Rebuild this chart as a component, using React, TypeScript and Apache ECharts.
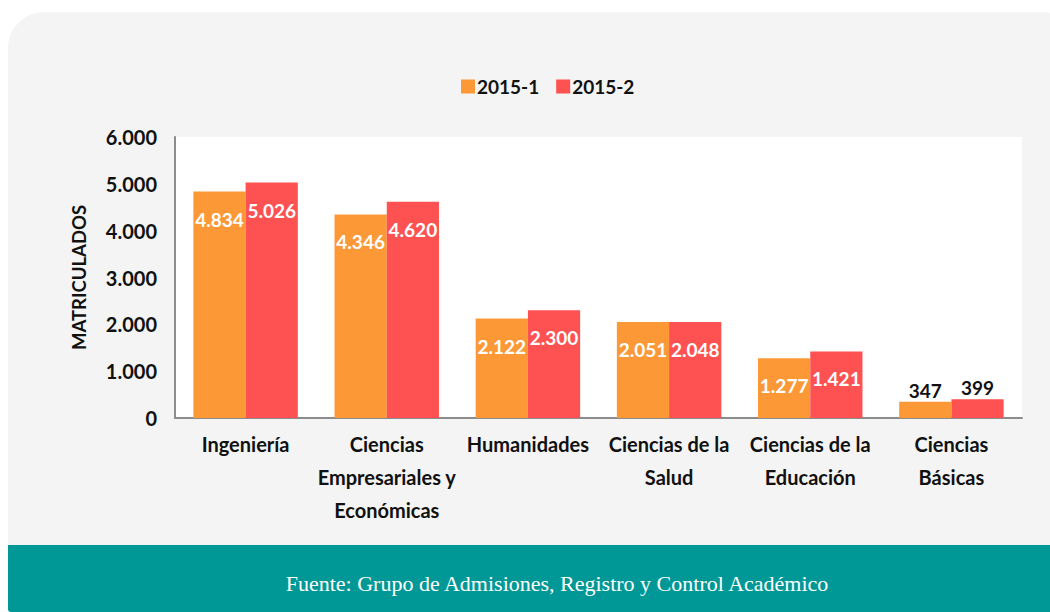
import React, { useEffect, useRef } from "react";
import * as echarts from "echarts";

const categories = [
  "Ingeniería",
  "Ciencias\nEmpresariales y\nEconómicas",
  "Humanidades",
  "Ciencias de la\nSalud",
  "Ciencias de la\nEducación",
  "Ciencias\nBásicas",
];
const series1Name = "2015-1";
const series2Name = "2015-2";
const series1Values = [4834, 4346, 2122, 2051, 1277, 347];
const series2Values = [5026, 4620, 2300, 2048, 1421, 399];
const outsideLabelCategories = ["Ciencias\nBásicas"];
const yAxisTitle = "MATRICULADOS";
const footerText = "Fuente: Grupo de Admisiones, Registro y Control Académico";

const ORANGE = "#fd9836";
const RED = "#fe5151";
const TEAL = "#009896";
const FONT = "Lato";

const fmt = (v: number) => {
  const s = String(Math.round(v));
  return s.replace(/\B(?=(\d{3})+(?!\d))/g, ".");
};

const buildData = (values: number[]) =>
  values.map((v, i) => {
    if (outsideLabelCategories.includes(categories[i])) {
      return {
        value: v,
        label: { position: "top", color: "#111", distance: 2 },
      };
    }
    return v;
  });

export default function App() {
  const ref = useRef<HTMLDivElement>(null);
  useEffect(() => {
    document.body.style.margin = "0";
    const chart = echarts.init(ref.current!, null, { renderer: "svg" });
    const labelCommon = {
      show: true,
      position: "insideTop",
      distance: 18,
      color: "#fff",
      fontFamily: FONT,
      fontWeight: "bold",
      fontSize: 19,
      formatter: (p: any) => fmt(p.value),
    };
    chart.setOption({
      animation: false,
      backgroundColor: "#ffffff",
      textStyle: { fontFamily: FONT },
      graphic: [
        {
          type: "rect",
          z: -10,
          silent: true,
          shape: { x: 8, y: 12, width: 1070, height: 620, r: [36, 36, 0, 0] },
          style: { fill: "#f4f4f4" },
        },
        {
          type: "rect",
          z: -9,
          silent: true,
          shape: { x: 8, y: 545, width: 1060, height: 67, r: [0, 0, 0, 3] },
          style: { fill: TEAL },
        },
        {
          type: "text",
          z: 10,
          silent: true,
          x: 557,
          y: 583,
          style: {
            text: footerText,
            fill: "#ffffff",
            font: '22px "Liberation Serif"',
            textAlign: "center",
            textVerticalAlign: "middle",
          },
        },
      ],
      legend: {
        left: 456,
        top: 72,
        itemWidth: 14,
        itemHeight: 14,
        itemGap: 17,
        icon: "rect",
        textStyle: {
          fontFamily: FONT,
          fontWeight: "bold",
          fontSize: 19,
          color: "#111",
          padding: [0, 0, 0, -3],
        },
        data: [series1Name, series2Name],
      },
      grid: {
        left: 175,
        right: 28,
        top: 137,
        bottom: 194,
        show: true,
        backgroundColor: "#ffffff",
        borderWidth: 0,
      },
      xAxis: {
        type: "category",
        data: categories,
        axisTick: { show: false },
        axisLine: { show: true, lineStyle: { color: "#8c8c8c", width: 2 } },
        axisLabel: {
          interval: 0,
          margin: 9,
          lineHeight: 33,
          fontFamily: FONT,
          fontWeight: "bold",
          fontSize: 20,
          color: "#111",
        },
      },
      yAxis: {
        type: "value",
        min: 0,
        max: 6000,
        interval: 1000,
        name: yAxisTitle,
        nameLocation: "middle",
        nameRotate: 90,
        nameGap: 87,
        nameTextStyle: {
          fontFamily: FONT,
          fontWeight: "bold",
          fontSize: 18.5,
          color: "#111",
        },
        splitLine: { show: false },
        axisTick: { show: false },
        axisLine: { show: true, lineStyle: { color: "#8c8c8c", width: 2 } },
        axisLabel: {
          margin: 18,
          fontFamily: FONT,
          fontWeight: "bold",
          fontSize: 20,
          color: "#111",
          formatter: (v: number) => fmt(v),
        },
      },
      series: [
        {
          name: series1Name,
          type: "bar",
          data: buildData(series1Values),
          itemStyle: { color: ORANGE },
          barGap: "0%",
          barCategoryGap: "26%",
          label: labelCommon,
        },
        {
          name: series2Name,
          type: "bar",
          data: buildData(series2Values),
          itemStyle: { color: RED },
          barGap: "0%",
          barCategoryGap: "26%",
          label: labelCommon,
        },
      ],
    });
    return () => chart.dispose();
  }, []);
  return (
    <div
      ref={ref}
      style={{ position: "absolute", left: 0, top: 0, width: 1050, height: 612 }}
    />
  );
}
